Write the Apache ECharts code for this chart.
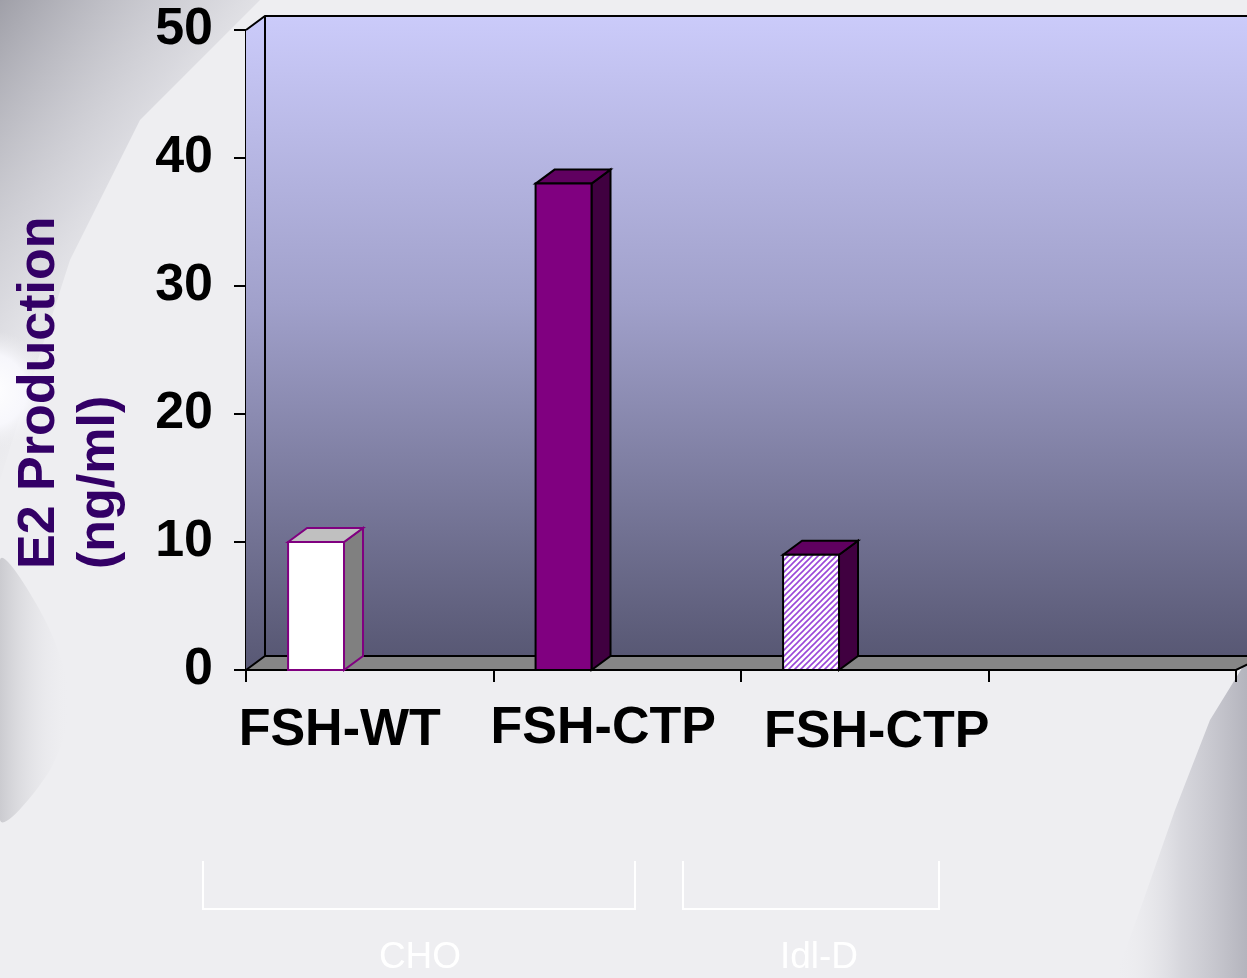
<!DOCTYPE html>
<html>
<head>
<meta charset="utf-8">
<script src="https://cdn.jsdelivr.net/npm/echarts@6/dist/echarts.min.js"></script>
<style>
html,body{margin:0;padding:0;background:#eeeef1;}
#chart{width:1247px;height:978px;}
</style>
</head>
<body>
<div id="chart"></div>
<script>
// ---- data ----
const categories = ['FSH-WT', 'FSH-CTP', 'FSH-CTP', ''];
const e2Values = [10, 38, 9, null];
const yTicks = [0, 10, 20, 30, 40, 50];
const yTitleLines = ['E2 Production', '(ng/ml)'];
const groupLabels = ['CHO', 'Idl-D'];

// hatch pattern
const hatch = document.createElement('canvas');
hatch.width = 6; hatch.height = 6;
(function(){
  const c = hatch.getContext('2d');
  c.fillStyle = '#ffffff'; c.fillRect(0,0,6,6);
  c.strokeStyle = '#9a48d8'; c.lineWidth = 1.6;
  c.beginPath();
  c.moveTo(0,6); c.lineTo(6,0);
  c.moveTo(-3,3); c.lineTo(3,-3);
  c.moveTo(3,9); c.lineTo(9,3);
  c.stroke();
})();

const barStyles = [
  {front:'#ffffff', top:'#c0c0c0', side:'#808080', stroke:'#800080'},
  {front:'#800080', top:'#600060', side:'#400040', stroke:'#000000'},
  {front:{image:hatch, repeat:'repeat'}, top:'#600060', side:'#400040', stroke:'#000000'}
];
const DX = 19, DY = -14;

const labelShift = [-30, -14, 12];
const labelDown = [2, 0, 4];
function pad(i){
  const s = labelShift[i];
  return [labelDown[i], s < 0 ? -2*s : 0, 0, s > 0 ? 2*s : 0];
}
const labelFont = {fontFamily:'Liberation Sans', fontWeight:'bold', fontSize:52, color:'#000'};

const chart = echarts.init(document.getElementById('chart'));

chart.setOption({
  backgroundColor: '#eeeef1',
  animation: false,
  grid: {left: 246, right: 11, top: 30, bottom: 308, containLabel: false},
  xAxis: {
    type: 'category',
    data: categories,
    boundaryGap: true,
    axisLine: {show: true, lineStyle: {color: '#000', width: 2}},
    axisTick: {show: true, length: 12, lineStyle: {color: '#000', width: 2}},
    axisLabel: {
      margin: 33,
      interval: 0,
      formatter: function(v, i){ return v ? '{s' + i + '|' + v + '}' : ''; },
      rich: {
        s0: Object.assign({padding: pad(0)}, labelFont),
        s1: Object.assign({padding: pad(1)}, labelFont),
        s2: Object.assign({padding: pad(2)}, labelFont)
      }
    },
    splitLine: {show: false}
  },
  yAxis: {
    type: 'value',
    min: yTicks[0], max: yTicks[yTicks.length-1], interval: 10,
    axisLine: {show: true, lineStyle: {color: '#000', width: 2}},
    axisTick: {show: true, length: 12, lineStyle: {color: '#000', width: 2}},
    axisLabel: {margin: 33, fontFamily:'Liberation Sans', fontWeight:'bold', fontSize:52, color:'#000'},
    splitLine: {show: false}
  },
  series: [
    {
      // walls & floor
      type: 'custom',
      z: 1,
      silent: true,
      data: [[0, 0]],
      renderItem: function(params, api){
        const cs = params.coordSys;
        const x0 = cs.x, y0 = cs.y, w = cs.width, h = cs.height;
        const grad = new echarts.graphic.LinearGradient(0,0,0,1,[
          {offset:0, color:'#cbcbfa'},
          {offset:0.45, color:'#a0a0ca'},
          {offset:1, color:'#585874'}
        ]);
        return {type:'group', children:[
          {type:'rect', shape:{x:x0+DX, y:y0+DY, width:w+40, height:h}, style:{fill:grad}},
          {type:'polygon', shape:{points:[[x0,y0],[x0+DX,y0+DY],[x0+DX,y0+h+DY],[x0,y0+h]]}, style:{fill:grad}},
          {type:'polygon', shape:{points:[[x0,y0+h],[x0+DX,y0+h+DY],[x0+w+DX+10,y0+h+DY],[x0+w,y0+h]]}, style:{fill:'#868686', stroke:'#000', lineWidth:2}},
          {type:'polyline', shape:{points:[[x0,y0],[x0+DX,y0+DY],[x0+w+60,y0+DY]]}, style:{fill:null, stroke:'#000', lineWidth:2}},
          {type:'line', shape:{x1:x0+DX, y1:y0+DY, x2:x0+DX, y2:y0+h+DY}, style:{stroke:'#000', lineWidth:2}}
        ]};
      }
    },
    {
      type: 'custom',
      z: 3,
      data: e2Values.map(function(v, i){ return [i, v]; }).filter(function(d){ return d[1] != null; }),
      renderItem: function(params, api){
        const idx = api.value(0), v = api.value(1);
        const base = api.coord([idx, 0]);
        const top = api.coord([idx, v]);
        const bw = api.size([1, 0])[0];
        const x0 = base[0] - bw*0.5 + bw*0.17;
        const w = bw*0.226;
        const st = barStyles[idx];
        const t = top[1], b = base[1];
        return {type:'group', children:[
          {type:'polygon', shape:{points:[[x0+w,t],[x0+w+DX,t+DY],[x0+w+DX,b+DY],[x0+w,b]]}, style:{fill:st.side, stroke:st.stroke, lineWidth:2}},
          {type:'polygon', shape:{points:[[x0,t],[x0+DX,t+DY],[x0+w+DX,t+DY],[x0+w,t]]}, style:{fill:st.top, stroke:st.stroke, lineWidth:2}},
          {type:'rect', shape:{x:x0, y:t, width:w, height:b-t}, style:{fill:st.front, stroke:st.stroke, lineWidth:2}}
        ]};
      }
    }
  ],
  graphic: [
    // background swooshes (soft)
    {type:'polygon', z:-10, silent:true, shape:{points:[[0,0],[260,0],[140,120],[70,260],[25,400],[0,480]]},
      style:{fill:new echarts.graphic.LinearGradient(0,0,1,0.4,[{offset:0,color:'rgba(140,140,150,0.8)'},{offset:0.55,color:'rgba(195,195,203,0.5)'},{offset:1,color:'rgba(238,238,241,0)'}])}},
    {type:'ellipse', z:-9, silent:true, shape:{cx:-10, cy:390, rx:60, ry:200},
      style:{fill:new echarts.graphic.RadialGradient(0.5,0.5,0.5,[{offset:0,color:'#ffffff'},{offset:0.6,color:'rgba(250,250,255,0.85)'},{offset:1,color:'rgba(238,238,241,0)'}])}},
    {type:'polygon', z:-10, silent:true, shape:{smooth:0.3, points:[[0,560],[45,620],[70,700],[50,770],[0,820]]},
      style:{fill:new echarts.graphic.LinearGradient(0,0,1,0,[{offset:0,color:'rgba(165,165,172,0.6)'},{offset:1,color:'rgba(238,238,241,0)'}])}},
    {type:'polygon', z:-10, silent:true, shape:{points:[[1247,660],[1210,720],[1175,810],[1140,910],[1115,978],[1247,978]]},
      style:{fill:new echarts.graphic.LinearGradient(0,0,1,0,[{offset:0,color:'rgba(238,238,241,0)'},{offset:0.5,color:'rgba(205,205,212,0.7)'},{offset:1,color:'rgba(170,170,180,0.85)'}])}},
    // y axis title
    {type:'text', z:10, x:10, y:569, rotation:Math.PI/2,
      style:{text: yTitleLines.join('\n'), fontFamily:'Liberation Sans', fontWeight:'bold', fontSize:52, lineHeight:60, fill:'#330066', align:'left', verticalAlign:'top'}},
    // group brackets
    {type:'polyline', z:10, shape:{points:[[203,861],[203,909],[635,909],[635,861]]}, style:{fill:null, stroke:'#ffffff', lineWidth:2}},
    {type:'polyline', z:10, shape:{points:[[683,861],[683,909],[939,909],[939,861]]}, style:{fill:null, stroke:'#ffffff', lineWidth:2}},
    {type:'text', z:10, x:420, y:958, style:{text: groupLabels[0], fontFamily:'Liberation Sans', fontSize:37, fill:'#ffffff', align:'center', verticalAlign:'middle'}},
    {type:'text', z:10, x:819, y:958, style:{text: groupLabels[1], fontFamily:'Liberation Sans', fontSize:37, fill:'#ffffff', align:'center', verticalAlign:'middle'}}
  ]
});
</script>
</body>
</html>
